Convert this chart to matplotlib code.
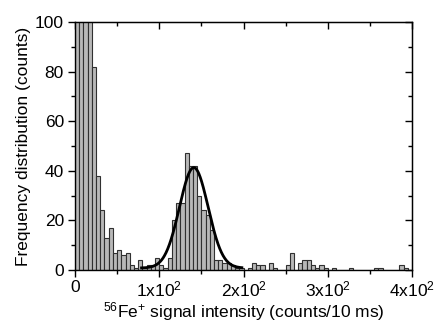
import numpy as np
import matplotlib
matplotlib.use('Agg')
import matplotlib.pyplot as plt

plt.rcParams['font.family'] = ['Liberation Sans', 'DejaVu Sans']
plt.rcParams['mathtext.fontset'] = 'custom'
plt.rcParams['mathtext.rm'] = 'Liberation Sans'
plt.rcParams['font.size'] = 12.5

# Histogram data: bin width 5 counts/10 ms, from 0 to 400
bin_width = 5
counts = [250, 310, 220, 140, 82, 38, 24, 13, 17, 7,
          8, 6, 7, 2, 1, 4, 1, 2, 2, 5,
          2, 1, 5, 20, 27, 27, 47, 42, 42, 30,
          24, 22, 16, 4, 4, 3, 3, 2, 1, 1,
          0, 1, 3, 2, 2, 0, 3, 1, 0, 0,
          2, 7, 0, 3, 4, 4, 2, 1, 2, 1,
          0, 1, 0, 0, 0, 1, 0, 0, 0, 0,
          0, 1, 1, 0, 0, 0, 0, 2, 1, 0]

# Gaussian fit parameters
y0, A, xc, sigma = 0.8, 40.5, 141, 17
fit_range = (79, 198)

x_ticks = [0, 100, 200, 300, 400]
x_ticklabels = ['0', r'$\mathregular{1x10^2}$', r'$\mathregular{2x10^2}$',
                r'$\mathregular{3x10^2}$', r'$\mathregular{4x10^2}$']
y_ticks = [0, 20, 40, 60, 80, 100]

left = np.arange(len(counts)) * bin_width

fig = plt.figure(figsize=(4.36, 3.22), dpi=100)
ax = fig.add_axes([0.172, 0.1615, 0.773, 0.770])

ax.bar(left, counts, width=bin_width, align='edge', color='#b8b8b8',
       edgecolor='#303030', linewidth=0.8)

xf = np.linspace(fit_range[0], fit_range[1], 300)
yf = y0 + A * np.exp(-(xf - xc) ** 2 / (2 * sigma ** 2))
ax.plot(xf, yf, color='black', lw=2.0)

ax.set_xlim(0, 400)
ax.set_ylim(0, 100)
ax.set_xticks(x_ticks)
ax.set_xticklabels(x_ticklabels)
ax.set_xticks(np.arange(50, 400, 100), minor=True)
ax.set_yticks(y_ticks)
ax.set_yticks(np.arange(10, 100, 20), minor=True)

ax.tick_params(which='both', direction='out', top=False, right=False, width=1)
ax.tick_params(which='major', length=5)
ax.tick_params(which='minor', length=3)
ax.tick_params(axis='x', which='major', pad=2)
ax.tick_params(axis='y', which='major', pad=3)

# mirrored ticks on top/right pointing inward
for side in ('top', 'right'):
    sec = ax.secondary_xaxis('top') if side == 'top' else ax.secondary_yaxis('right')
    if side == 'top':
        sec.set_xticks(x_ticks)
        sec.set_xticks(np.arange(50, 400, 100), minor=True)
        sec.set_xticklabels([])
    else:
        sec.set_yticks(y_ticks)
        sec.set_yticks(np.arange(10, 100, 20), minor=True)
        sec.set_yticklabels([])
    sec.tick_params(which='both', direction='in', width=1)
    sec.tick_params(which='major', length=5)
    sec.tick_params(which='minor', length=3)

for spine in ax.spines.values():
    spine.set_linewidth(1.0)

ax.set_xlabel(r'$\mathregular{^{56}Fe^{+}}$ signal intensity (counts/10 ms)', labelpad=0)
ax.set_ylabel('Frequency distribution (counts)', labelpad=3)

fig.savefig('out.png', dpi=100)
